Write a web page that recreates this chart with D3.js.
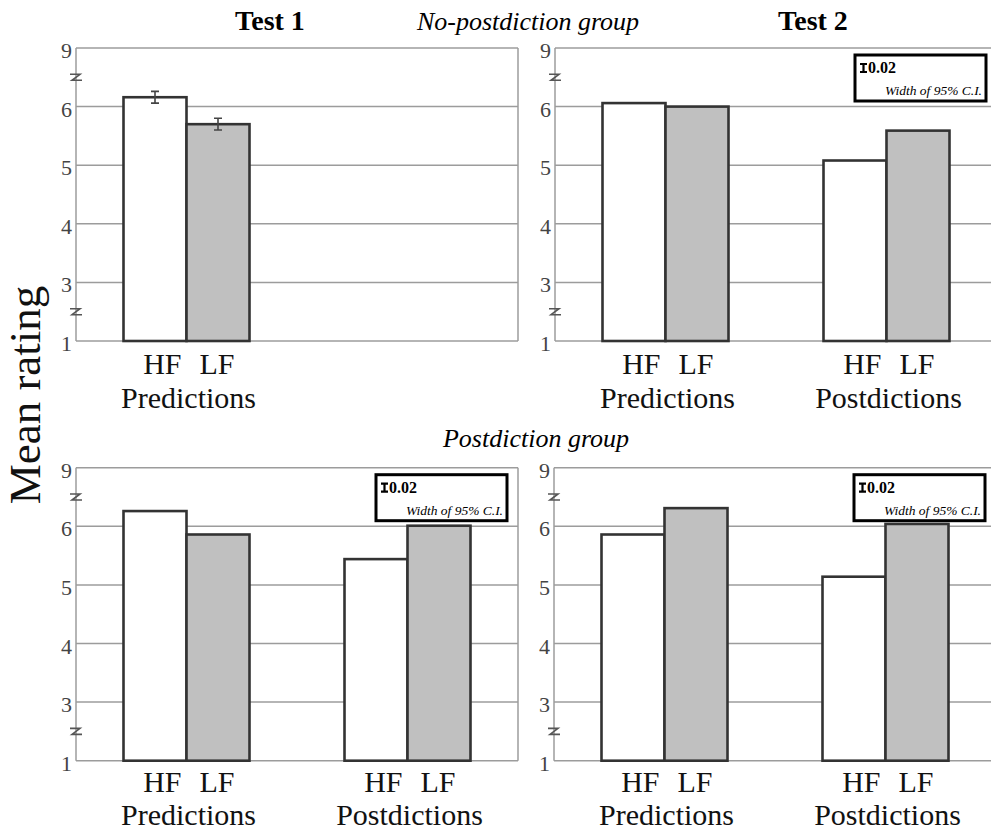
<!DOCTYPE html>
<html>
<head>
<meta charset="utf-8">
<script src="https://cdn.jsdelivr.net/npm/d3@7/dist/d3.min.js"></script>
<style>
  html, body { margin: 0; padding: 0; background: #fff; }
  svg { display: block; }
  text { font-family: "Liberation Serif", "Times New Roman", serif; }
</style>
</head>
<body>
<svg id="chart" width="991" height="833"></svg>
<script>
// ---------------- data ----------------
const groups = ["Predictions", "Postdictions"];
const frequencies = ["HF", "LF"];
const tests = ["Test 1", "Test 2"];
const participantGroups = ["No-postdiction group", "Postdiction group"];
const tickValues = [1, 3, 4, 5, 6, 9];
const breakValues = [2.5, 6.5];

// No-postdiction group
const hfNoPostTest1 = [6.16];
const lfNoPostTest1 = [5.70];
const ciHalfNoPostTest1HF = [0.10];
const ciHalfNoPostTest1LF = [0.10];
const hfNoPostTest2 = [6.06, 5.08];
const lfNoPostTest2 = [6.00, 5.59];
// Postdiction group
const hfPostTest1 = [6.26, 5.44];
const lfPostTest1 = [5.86, 6.01];
const hfPostTest2 = [5.86, 5.14];
const lfPostTest2 = [6.31, 6.04];

const legendValue = "0.02";
const legendLabel = "Width of 95% C.I.";
const yAxisTitle = "Mean rating";

// ---------------- layout ----------------
const svg = d3.select("#chart");
const panelW = 442;
const panels = [
  { left: 76,  top: 48,    bottom: 341,   hf: hfNoPostTest1, lf: lfNoPostTest1, ciHF: ciHalfNoPostTest1HF, ciLF: ciHalfNoPostTest1LF, legend: false, lab1: 33, lab2: 67 },
  { left: 555, top: 48,    bottom: 341,   hf: hfNoPostTest2, lf: lfNoPostTest2, legend: true, lab1: 33, lab2: 67 },
  { left: 76,  top: 467.7, bottom: 760.7, hf: hfPostTest1,   lf: lfPostTest1,   legend: true, lab1: 31, lab2: 64 },
  { left: 554, top: 467.7, bottom: 760.7, hf: hfPostTest2,   lf: lfPostTest2,   legend: true, lab1: 31, lab2: 64 }
];

const gridColor = "#9c9c9c";
const barStroke = "#333";
const lfFill = "#c0c0c0";
const catFont = 30;

panels.forEach(p => {
  const u = (p.bottom - p.top) / 5;
  // broken value axis: 1..2.5 and 6.5..9 compressed
  const y = d3.scaleLinear()
    .domain([1, 2.5, 6.5, 9])
    .range([p.bottom, p.bottom - 0.5 * u, p.bottom - 4.5 * u, p.top]);
  const x0 = d3.scaleBand().domain(groups).range([p.left, p.left + panelW]).padding(0);
  const bw = x0.bandwidth();
  const barW = 63;
  const x1 = d3.scaleBand().domain(frequencies).range([bw / 2 - barW, bw / 2 + barW]).padding(0);

  const g = svg.append("g");

  // gridlines
  g.selectAll("line.grid").data(tickValues).join("line")
    .attr("x1", p.left).attr("x2", p.left + panelW)
    .attr("y1", d => y(d)).attr("y2", d => y(d))
    .attr("stroke", gridColor).attr("stroke-width", 1.5);
  // frame verticals
  g.append("line").attr("x1", p.left).attr("x2", p.left)
    .attr("y1", y(9)).attr("y2", y(1)).attr("stroke", gridColor).attr("stroke-width", 1.5);
  g.append("line").attr("x1", p.left + panelW).attr("x2", p.left + panelW)
    .attr("y1", y(9)).attr("y2", y(1)).attr("stroke", gridColor).attr("stroke-width", 1.5);

  // tick labels
  g.selectAll("text.tick").data(tickValues).join("text")
    .attr("x", p.left - 4).attr("y", d => y(d) + 10)
    .attr("text-anchor", "end").attr("font-size", 22).attr("fill", "#444")
    .text(d => d);

  // break marks
  g.selectAll("path.brk").data(breakValues).join("path")
    .attr("d", d => {
      const yy = y(d), xx = p.left;
      return `M${xx - 6},${yy - 3} L${xx + 4},${yy - 3} L${xx - 4},${yy + 3} L${xx + 6},${yy + 3}`;
    })
    .attr("fill", "none").attr("stroke", "#555").attr("stroke-width", 1.6);

  // bars
  const rows = [];
  p.hf.forEach((v, i) => rows.push({ grp: groups[i], f: "HF", v, ci: p.ciHF ? p.ciHF[i] : null }));
  p.lf.forEach((v, i) => rows.push({ grp: groups[i], f: "LF", v, ci: p.ciLF ? p.ciLF[i] : null }));

  g.selectAll("rect.bar").data(rows).join("rect")
    .attr("x", d => x0(d.grp) + x1(d.f))
    .attr("width", x1.bandwidth())
    .attr("y", d => y(d.v))
    .attr("height", d => y(1) - y(d.v))
    .attr("fill", d => d.f === "HF" ? "#fff" : lfFill)
    .attr("stroke", barStroke).attr("stroke-width", 2.6);

  // error bars
  const eb = rows.filter(d => d.ci != null);
  const cx = d => x0(d.grp) + x1(d.f) + x1.bandwidth() / 2;
  g.selectAll("path.err").data(eb).join("path")
    .attr("d", d => {
      const yt = y(d.v + d.ci), yb = y(d.v - d.ci), c = cx(d);
      return `M${c - 4},${yt} H${c + 4} M${c},${yt} V${yb} M${c - 4},${yb} H${c + 4}`;
    })
    .attr("fill", "none").attr("stroke", "#444").attr("stroke-width", 1.6);

  // category labels
  const groupsPresent = groups.slice(0, p.hf.length);
  groupsPresent.forEach(gr => {
    const c = x0(gr) + bw / 2;
    g.append("text").attr("x", c - 5).attr("y", p.bottom + p.lab1)
      .attr("text-anchor", "end").attr("font-size", catFont).attr("fill", "#111").text(frequencies[0]);
    g.append("text").attr("x", c + 13).attr("y", p.bottom + p.lab1)
      .attr("text-anchor", "start").attr("font-size", catFont).attr("fill", "#111").text(frequencies[1]);
    g.append("text").attr("x", c + 2).attr("y", p.bottom + p.lab2)
      .attr("text-anchor", "middle").attr("font-size", catFont).attr("fill", "#111").text(gr);
  });

  // legend
  if (p.legend) {
    const lx = p.left + 300, ly = p.top + 7;
    g.append("rect").attr("x", lx).attr("y", ly).attr("width", 131).attr("height", 46)
      .attr("fill", "#fff").attr("stroke", "#000").attr("stroke-width", 3);
    g.append("path")
      .attr("d", `M${lx + 5},${ly + 9} H${lx + 12} M${lx + 8.5},${ly + 9} V${ly + 17} M${lx + 5},${ly + 17} H${lx + 12}`)
      .attr("stroke", "#000").attr("stroke-width", 2.2).attr("fill", "none");
    g.append("text").attr("x", lx + 13).attr("y", ly + 18)
      .attr("font-size", 16).attr("font-weight", "bold").text(legendValue);
    g.append("text").attr("x", lx + 127).attr("y", ly + 40)
      .attr("text-anchor", "end").attr("font-size", 13.5).attr("font-style", "italic").text(legendLabel);
  }
});

// titles
svg.append("text").attr("x", 270).attr("y", 30).attr("text-anchor", "middle")
  .attr("font-size", 28).attr("font-weight", "bold").text(tests[0]);
svg.append("text").attr("x", 813).attr("y", 30).attr("text-anchor", "middle")
  .attr("font-size", 28).attr("font-weight", "bold").text(tests[1]);
svg.append("text").attr("x", 528).attr("y", 30).attr("text-anchor", "middle")
  .attr("font-size", 26).attr("font-style", "italic").text(participantGroups[0]);
svg.append("text").attr("x", 536).attr("y", 447).attr("text-anchor", "middle")
  .attr("font-size", 26).attr("font-style", "italic").text(participantGroups[1]);

// y axis title
svg.append("text")
  .attr("transform", "translate(40,395) rotate(-90)")
  .attr("text-anchor", "middle").attr("font-size", 45).attr("fill", "#111")
  .text(yAxisTitle);
</script>
</body>
</html>
